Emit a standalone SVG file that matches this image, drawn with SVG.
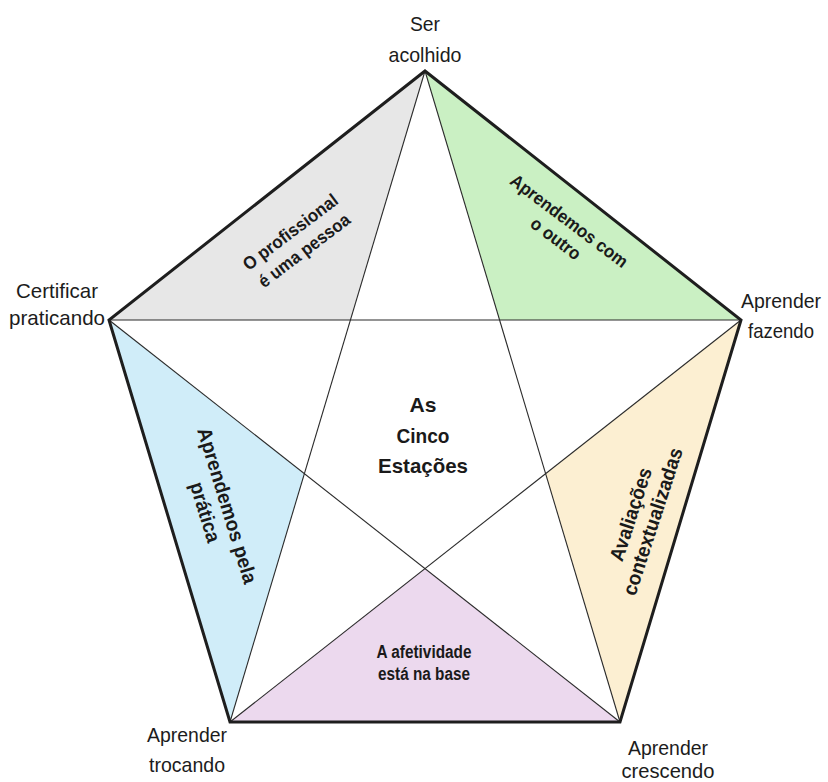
<svg xmlns="http://www.w3.org/2000/svg" width="828" height="782" viewBox="0 0 828 782">
  <style>
    .outer { font-family: "Liberation Sans", Arial, sans-serif; font-size: 21px; fill: #1c1c1c; text-anchor: middle; }
    .inner { font-family: "Liberation Sans", Arial, sans-serif; font-weight: bold; fill: #1a1a1a; text-anchor: middle; }
    .title { font-family: "Liberation Sans", Arial, sans-serif; font-weight: bold; font-size: 21px; fill: #1a1a1a; text-anchor: middle; }
    .edge { fill: none; stroke: #1e1e1e; stroke-width: 3; stroke-linejoin: miter; }
    .star { stroke: #2a2a2a; stroke-width: 1.1; fill: none; }
  </style>
  <rect width="828" height="782" fill="#ffffff"/>

  <!-- coloured corner regions of the star -->
  <g id="region-profissional">
    <polygon points="425,71 109,320 350.4,320" fill="#e7e7e7"/>
    <g transform="translate(297,241) rotate(-37)">
      <text class="inner" font-size="18"><tspan x="0" y="-5" textLength="114" lengthAdjust="spacingAndGlyphs">O profissional</tspan><tspan x="0" y="18" textLength="110" lengthAdjust="spacingAndGlyphs">é uma pessoa</tspan></text>
    </g>
  </g>
  <g id="region-outro">
    <polygon points="425,71 741,320 499.6,320" fill="#caf0c3"/>
    <g transform="translate(563,229) rotate(37)">
      <text class="inner" font-size="18"><tspan x="0" y="-4" textLength="142" lengthAdjust="spacingAndGlyphs">Aprendemos com</tspan><tspan x="0" y="18" textLength="58" lengthAdjust="spacingAndGlyphs">o outro</tspan></text>
    </g>
  </g>
  <g id="region-pratica">
    <polygon points="109,320 230,722 304.4,473.7" fill="#d0edf9"/>
    <g transform="translate(216,509) rotate(73)">
      <text class="inner" font-size="20"><tspan x="0" y="-5" textLength="162" lengthAdjust="spacingAndGlyphs">Aprendemos pela</tspan><tspan x="0" y="18" textLength="62" lengthAdjust="spacingAndGlyphs">prática</tspan></text>
    </g>
  </g>
  <g id="region-avaliacoes">
    <polygon points="741,320 620,722 545.6,473.7" fill="#fcefd2"/>
    <g transform="translate(642,518) rotate(-72)">
      <text class="inner" font-size="20"><tspan x="0" y="-5" textLength="97" lengthAdjust="spacingAndGlyphs">Avaliações</tspan><tspan x="0" y="18" textLength="154" lengthAdjust="spacingAndGlyphs">contextualizadas</tspan></text>
    </g>
  </g>
  <g id="region-afetividade">
    <polygon points="230,722 620,722 425,568.5" fill="#ecd9ee"/>
    <text class="inner" font-size="18"><tspan x="424" y="658" textLength="95" lengthAdjust="spacingAndGlyphs">A afetividade</tspan><tspan x="424" y="680" textLength="92" lengthAdjust="spacingAndGlyphs">está na base</tspan></text>
  </g>

  <!-- star lines joining the corners -->
  <g id="connectors">
    <line class="star" x1="425" y1="71" x2="230" y2="722"/>
    <line class="star" x1="425" y1="71" x2="620" y2="722"/>
    <line class="star" x1="109" y1="320" x2="741" y2="320" stroke="#6e6e6e" stroke-width="1.6"/>
    <line class="star" x1="109" y1="320" x2="620" y2="722"/>
    <line class="star" x1="741" y1="320" x2="230" y2="722"/>
  </g>

  <!-- pentagon outline -->
  <g id="pentagon">
    <polygon class="edge" points="425,71 741,320 620,722 230,722 109,320"/>
  </g>

  <g id="center-title">
    <text class="title"><tspan x="423" y="412" textLength="27" lengthAdjust="spacingAndGlyphs">As</tspan><tspan x="423" y="443" textLength="53" lengthAdjust="spacingAndGlyphs">Cinco</tspan><tspan x="423" y="473" textLength="90" lengthAdjust="spacingAndGlyphs">Estações</tspan></text>
  </g>

  <!-- corner labels -->
  <g id="label-acolhido">
    <text class="outer"><tspan x="425" y="31" textLength="30" lengthAdjust="spacingAndGlyphs">Ser</tspan><tspan x="425" y="62" textLength="73" lengthAdjust="spacingAndGlyphs">acolhido</tspan></text>
  </g>
  <g id="label-certificar">
    <text class="outer"><tspan x="57" y="298" textLength="82" lengthAdjust="spacingAndGlyphs">Certificar</tspan><tspan x="57" y="325" textLength="96" lengthAdjust="spacingAndGlyphs">praticando</tspan></text>
  </g>
  <g id="label-fazendo">
    <text class="outer"><tspan x="781" y="308" textLength="80" lengthAdjust="spacingAndGlyphs">Aprender</tspan><tspan x="781" y="338" textLength="66" lengthAdjust="spacingAndGlyphs">fazendo</tspan></text>
  </g>
  <g id="label-trocando">
    <text class="outer"><tspan x="187" y="742" textLength="80" lengthAdjust="spacingAndGlyphs">Aprender</tspan><tspan x="187" y="772" textLength="76" lengthAdjust="spacingAndGlyphs">trocando</tspan></text>
  </g>
  <g id="label-crescendo">
    <text class="outer"><tspan x="668" y="755" textLength="80" lengthAdjust="spacingAndGlyphs">Aprender</tspan><tspan x="668" y="778" textLength="93" lengthAdjust="spacingAndGlyphs">crescendo</tspan></text>
  </g>
</svg>
